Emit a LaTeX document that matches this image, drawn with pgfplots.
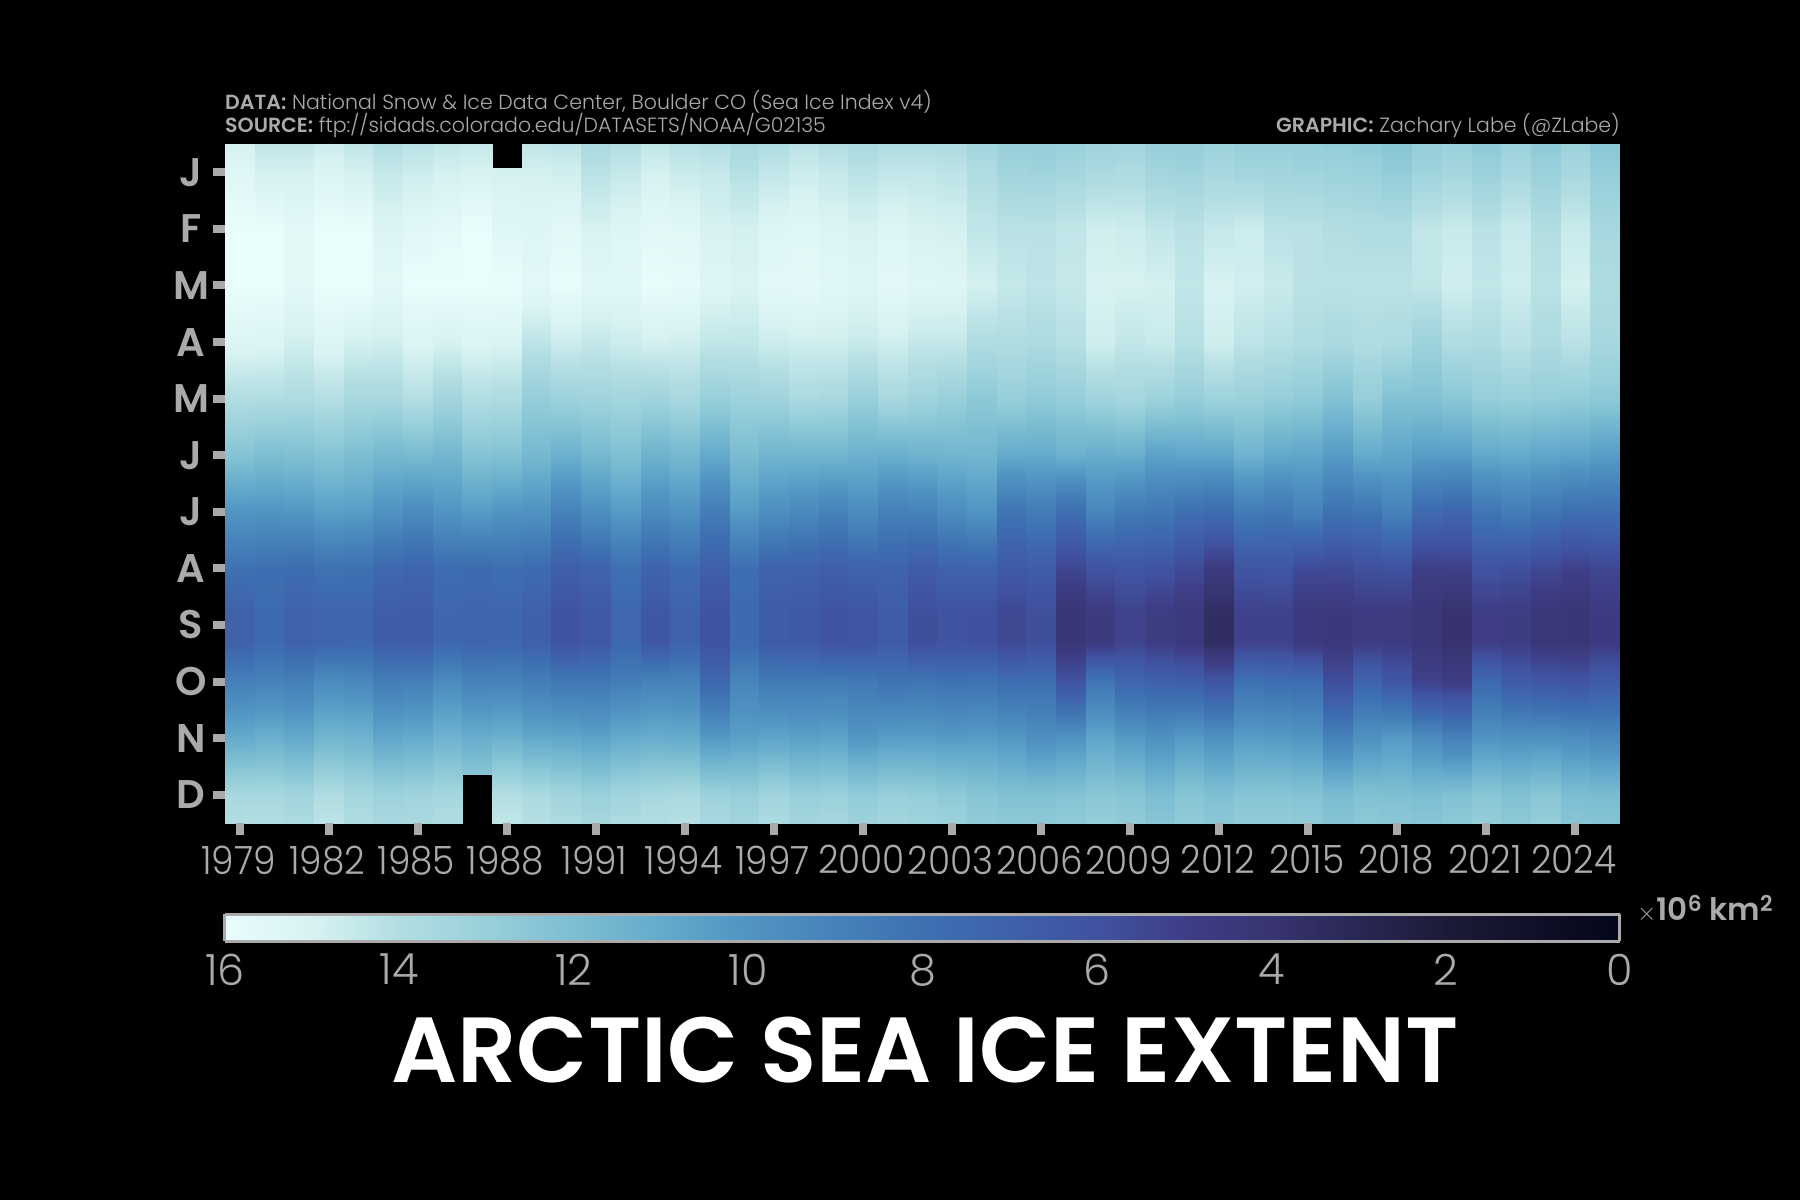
\documentclass[border=0pt]{standalone}
\usepackage{fontspec}
\setmainfont{Poppins}[UprightFont=* Light,BoldFont=* SemiBold]
\newfontfamily\tk{Poppins Light}[FakeStretch=0.92]
\usepackage{pgfplots}
\pgfplotsset{compat=1.18}
\definecolor{lab}{RGB}{170,170,170}
\newcommand\fs[1]{\fontsize{#1}{#1}\selectfont}
\newcount\ypos
\pgfplotsset{ice/.style={surf,shader=interp,mesh/cols=2,point meta=z},
  colormap={icer}{rgb255=(4,6,26) rgb255=(16,16,40) rgb255=(28,27,55) rgb255=(41,39,83) rgb255=(55,52,112) rgb255=(62,62,135) rgb255=(64,82,160) rgb255=(63,97,170) rgb255=(62,112,178) rgb255=(70,130,186) rgb255=(80,148,194) rgb255=(100,170,203) rgb255=(125,190,210) rgb255=(152,207,218) rgb255=(178,222,226) rgb255=(216,242,242) rgb255=(233,253,252)},
  colormap name=icer}
% each list: top edge, Jan ... Dec, bottom edge
\newcommand\yearcol[2]{%
  \pgfmathsetmacro\xa{#1-0.5}\pgfmathsetmacro\xb{#1+0.51}%
  \ypos=0 \def\cc{}%
  \pgfplotsforeachungrouped \vv in {#2}{%
    \ifnum\ypos=0 \edef\cc{(\xa,-0.5,\vv)(\xb,-0.5,\vv)}%
    \else\ifnum\ypos=13 \edef\cc{\cc(\xa,11.5,\vv)(\xb,11.5,\vv)}%
    \else\ifnum\ypos=9 \edef\cc{\cc(\xa,7.75,\vv)(\xb,7.75,\vv)(\xa,8.3,\vv)(\xb,8.3,\vv)}%
    \else \edef\cc{\cc(\xa,\the\numexpr\ypos-1\relax,\vv)(\xb,\the\numexpr\ypos-1\relax,\vv)}%
    \fi\fi\fi
    \advance\ypos by 1
  }%
  \edef\tmp{\noexpand\addplot3[ice] coordinates {\cc};}\tmp
}
\begin{document}
\begin{tikzpicture}[x=1pt,y=1pt]
\fill[black] (0,0) rectangle (1800,1200);
\begin{axis}[
  at={(225pt,377pt)},anchor=south west,
  scale only axis,width=1395pt,height=679pt,
  view={0}{90},
  xmin=1978.5,xmax=2025.5,ymin=-0.5,ymax=11.5,y dir=reverse,
  axis line style={draw=none},
  tick align=outside,xtick pos=bottom,ytick pos=left,
  major tick length=12pt,
  every tick/.style={line width=8pt,color=lab},
  xtick={1979,1982,...,2024},
  xticklabels={1979,1982,1985,1988,1991,1994,1997,2000,2003,2006,2009,2012,2015,2018,2021,2024},
  ytick={0,...,11},
  yticklabels={J,F,M,A,M,J,J,A,S,O,N,D},
  xticklabel style={font=\fs{39}\tk,text=lab,yshift=-7pt,xshift=-1.5pt},
  yticklabel style={font=\fs{40}\bfseries,text=lab,anchor=center,xshift=-22pt},
  point meta min=0,point meta max=16,
]
\yearcol{1979}{14.9,15.4,16.2,16.3,15.3,13.9,12.3,10.0,8.1,7.05,8.9,11.05,13.6,14.0}
\yearcol{1980}{14.4,14.9,16.0,16.1,15.2,13.9,12.0,10.0,7.9,7.67,9.1,11.25,13.6,14.0}
\yearcol{1981}{14.4,14.9,15.6,15.6,14.8,13.8,12.1,10.1,7.8,7.14,8.9,10.95,13.4,13.8}
\yearcol{1982}{14.7,15.2,16.0,16.1,15.3,14.0,12.3,10.5,8.1,7.30,9.6,11.55,13.9,14.3}
\yearcol{1983}{14.4,14.9,16.0,16.1,14.9,13.6,12.0,10.4,8.0,7.39,9.4,11.45,13.5,13.9}
\yearcol{1984}{14.0,14.5,15.2,15.6,14.8,13.6,11.7,9.9,7.5,6.81,8.8,10.85,13.2,13.6}
\yearcol{1985}{14.2,14.7,15.5,16.0,15.2,14.0,11.8,9.5,7.3,6.70,8.9,11.05,13.3,13.7}
\yearcol{1986}{14.4,14.9,15.7,16.0,15.0,13.4,11.6,10.0,7.8,7.41,9.6,11.45,13.5,13.9}
\addplot3[ice] coordinates {(1986.5,-0.5,14.5)(1987.51,-0.5,14.5)(1986.5,0,15.0)(1987.51,0,15.0)(1986.5,1,16.0)(1987.51,1,16.0)(1986.5,2,16.0)(1987.51,2,16.0)(1986.5,3,15.2)(1987.51,3,15.2)(1986.5,4,13.9)(1987.51,4,13.9)(1986.5,5,12.3)(1987.51,5,12.3)(1986.5,6,10.3)(1987.51,6,10.3)(1986.5,7,7.7)(1987.51,7,7.7)(1986.5,7.75,7.28)(1987.51,7.75,7.28)(1986.5,8.3,7.28)(1987.51,8.3,7.28)(1986.5,9,9.1)(1987.51,9,9.1)(1986.5,10,11.15)(1987.51,10,11.15)(1986.5,10.65,12.4)(1987.51,10.65,12.4)};
\addplot3[ice] coordinates {(1987.5,-0.07,14.9)(1988.51,-0.07,14.9)(1987.5,1,15.4)(1988.51,1,15.4)(1987.5,2,16.2)(1988.51,2,16.2)(1987.5,3,15.1)(1988.51,3,15.1)(1987.5,4,13.8)(1988.51,4,13.8)(1987.5,5,12.2)(1988.51,5,12.2)(1987.5,6,10.0)(1988.51,6,10.0)(1987.5,7,7.9)(1988.51,7,7.9)(1987.5,7.75,7.37)(1988.51,7.75,7.37)(1987.5,8.3,7.37)(1988.51,8.3,7.37)(1987.5,9,9.1)(1988.51,9,9.1)(1987.5,10,11.35)(1988.51,10,11.35)(1987.5,11,14.0)(1988.51,11,14.0)(1987.5,11.5,14.4)(1988.51,11.5,14.4)};
\yearcol{1989}{14.4,14.9,15.3,15.6,14.3,12.9,11.7,9.9,7.7,7.01,8.8,10.95,13.7,14.1}
\yearcol{1990}{14.3,14.8,15.6,15.9,14.7,13.2,11.3,9.0,6.9,6.14,8.5,10.85,13.4,13.8}
\yearcol{1991}{13.7,14.2,15.0,15.5,14.5,13.3,11.7,9.7,7.2,6.47,8.5,10.65,13.1,13.5}
\yearcol{1992}{14.0,14.5,15.3,15.5,14.7,13.4,12.1,10.3,8.0,7.47,8.8,11.05,13.4,13.8}
\yearcol{1993}{14.4,14.9,15.6,15.9,14.9,13.3,11.4,9.5,7.2,6.40,9.1,11.15,13.6,14.0}
\yearcol{1994}{14.1,14.6,15.5,15.8,14.8,13.6,11.7,9.9,7.7,7.14,9.1,11.05,13.7,14.1}
\yearcol{1995}{14.0,14.5,15.0,15.3,14.4,13.0,11.0,8.7,6.9,6.08,7.5,10.25,13.2,13.6}
\yearcol{1996}{13.6,14.1,14.9,15.1,14.4,13.2,11.9,10.3,7.9,7.58,9.2,10.55,13.0,13.4}
\yearcol{1997}{13.9,14.4,15.3,15.6,14.7,13.3,11.5,9.7,7.2,6.69,8.6,10.75,13.4,13.8}
\yearcol{1998}{14.2,14.7,15.4,15.7,14.8,13.7,11.5,9.4,7.1,6.54,8.6,10.55,13.0,13.4}
\yearcol{1999}{14.0,14.5,15.2,15.5,14.8,13.6,11.5,9.0,6.9,6.12,8.7,10.65,13.1,13.5}
\yearcol{2000}{13.7,14.2,15.0,15.3,14.6,13.0,11.3,9.6,7.2,6.25,8.5,10.15,12.8,13.2}
\yearcol{2001}{13.9,14.4,15.3,15.6,14.8,13.6,11.2,8.9,7.2,6.73,8.2,10.45,13.0,13.4}
\yearcol{2002}{13.9,14.4,15.0,15.4,14.5,13.3,11.4,9.0,6.7,5.83,8.3,10.45,12.9,13.3}
\yearcol{2003}{13.8,14.3,14.9,15.3,14.5,13.0,11.5,9.6,7.1,6.12,8.1,10.3,12.7,13.1}
\yearcol{2004}{13.4,13.9,14.4,14.9,13.9,12.6,11.6,10.0,7.2,5.98,8.2,10.4,12.4,12.8}
\yearcol{2005}{13.0,13.4,14.2,14.5,13.9,13.0,11.0,8.2,6.5,5.50,7.8,10.2,12.2,12.6}
\yearcol{2006}{12.9,13.3,14.2,14.3,13.8,12.7,11.0,8.6,6.7,5.86,7.9,9.7,12.2,12.6}
\yearcol{2007}{13.1,13.5,14.4,14.5,14.1,12.9,11.3,7.8,5.4,4.27,6.1,10.0,12.3,12.7}
\yearcol{2008}{13.3,13.7,14.8,15.0,14.8,13.3,11.1,9.2,6.1,4.69,8.4,10.8,12.5,12.9}
\yearcol{2009}{13.4,13.8,14.7,15.0,14.4,13.5,11.2,8.6,6.3,5.26,7.4,10.3,12.4,12.8}
\yearcol{2010}{13.0,13.4,14.4,14.9,14.6,13.2,10.6,8.4,6.1,4.87,7.1,9.9,12.0,12.4}
\yearcol{2011}{12.9,13.3,14.2,14.4,14.1,12.9,10.8,7.9,5.6,4.56,6.9,10.3,12.4,12.8}
\yearcol{2012}{13.2,13.6,14.5,15.0,14.8,13.2,10.8,7.7,4.7,3.57,6.3,9.9,12.1,12.5}
\yearcol{2013}{13.0,13.4,14.7,14.8,14.3,13.1,11.4,8.6,6.2,5.21,8.1,10.4,12.4,12.8}
\yearcol{2014}{13.0,13.4,14.2,14.6,14.1,12.9,10.9,8.4,6.3,5.22,7.9,10.3,12.4,12.8}
\yearcol{2015}{12.9,13.3,14.2,14.2,13.9,12.7,10.8,9.0,5.6,4.62,7.8,10.1,12.3,12.7}
\yearcol{2016}{12.8,13.2,14.0,14.2,13.7,12.2,10.3,8.1,5.6,4.53,5.8,9.1,11.9,12.3}
\yearcol{2017}{12.7,13.1,13.9,14.2,13.9,12.9,11.0,8.3,5.9,4.82,7.3,9.9,12.2,12.6}
\yearcol{2018}{12.4,12.8,13.9,14.2,13.8,12.2,10.8,9.0,6.0,4.79,6.4,10.3,12.1,12.5}
\yearcol{2019}{12.9,13.3,14.4,14.4,13.2,12.2,10.4,7.6,5.0,4.36,5.2,9.6,12.0,12.4}
\yearcol{2020}{13.1,13.5,14.6,14.8,13.9,12.5,10.4,7.3,5.1,3.92,4.9,9.0,12.2,12.6}
\yearcol{2021}{12.7,13.1,14.2,14.4,13.8,12.9,10.9,8.3,6.1,4.95,7.6,10.0,12.5,12.9}
\yearcol{2022}{13.2,13.6,14.6,14.7,14.2,13.0,11.0,8.7,5.9,4.87,6.7,9.9,12.2,12.6}
\yearcol{2023}{12.7,13.1,14.0,14.2,13.8,12.9,10.8,8.3,5.5,4.37,6.4,9.9,12.5,12.9}
\yearcol{2024}{13.2,13.6,14.6,14.9,14.2,12.8,10.7,7.9,5.1,4.28,6.2,9.7,12.0,12.4}
\yearcol{2025}{12.5,12.9,13.6,13.8,13.6,12.6,10.4,7.9,5.4,4.75,6.7,9.4,11.9,12.3}
\end{axis}
\begin{axis}[
  at={(225pt,258.5pt)},anchor=south west,
  scale only axis,width=1395pt,height=27pt,
  view={0}{90},axis on top,
  xmin=0,xmax=16,ymin=0,ymax=1,x dir=reverse,
  xtick={0,2,...,16},ytick=\empty,
  xtick pos=bottom,
  major tick length=0pt,
  axis line style={draw=lab,line width=3pt},
  xticklabel style={font=\fs{43},text=lab,/pgf/number format/assume math mode=true,yshift=-9pt},
  point meta min=0,point meta max=16,
]
\addplot3[surf,shader=interp,mesh/cols=17,point meta=z] coordinates {
(0,0,0)(1,0,1)(2,0,2)(3,0,3)(4,0,4)(5,0,5)(6,0,6)(7,0,7)(8,0,8)(9,0,9)(10,0,10)(11,0,11)(12,0,12)(13,0,13)(14,0,14)(15,0,15)(16,0,16)
(0,1,0)(1,1,1)(2,1,2)(3,1,3)(4,1,4)(5,1,5)(6,1,6)(7,1,7)(8,1,8)(9,1,9)(10,1,10)(11,1,11)(12,1,12)(13,1,13)(14,1,14)(15,1,15)(16,1,16)};
\end{axis}
\node[anchor=base west,text=lab,font=\fs{20.5},inner sep=0pt] at (225,1090) {\textbf{DATA:} National Snow \& Ice Data Center, Boulder CO (Sea Ice Index v4)};
\node[anchor=base west,text=lab,font=\fs{20.5},inner sep=0pt] at (225,1067) {\textbf{SOURCE:} ftp://sidads.colorado.edu/DATASETS/NOAA/G02135};
\node[anchor=base east,text=lab,font=\fs{20.5},inner sep=0pt] at (1620,1067) {\textbf{GRAPHIC:} Zachary Labe (@ZLabe)};
\node[anchor=base west,text=lab,font=\fs{31},inner sep=0pt] at (1637,279) {{\fs{38}$\times$}\textbf{10\textsuperscript{6} km\textsuperscript{2}}};
\node[anchor=base,text=white,font=\fs{92.5}\bfseries,inner sep=0pt] at (925,117) {ARCTIC SEA ICE EXTENT};
\end{tikzpicture}
\end{document}
